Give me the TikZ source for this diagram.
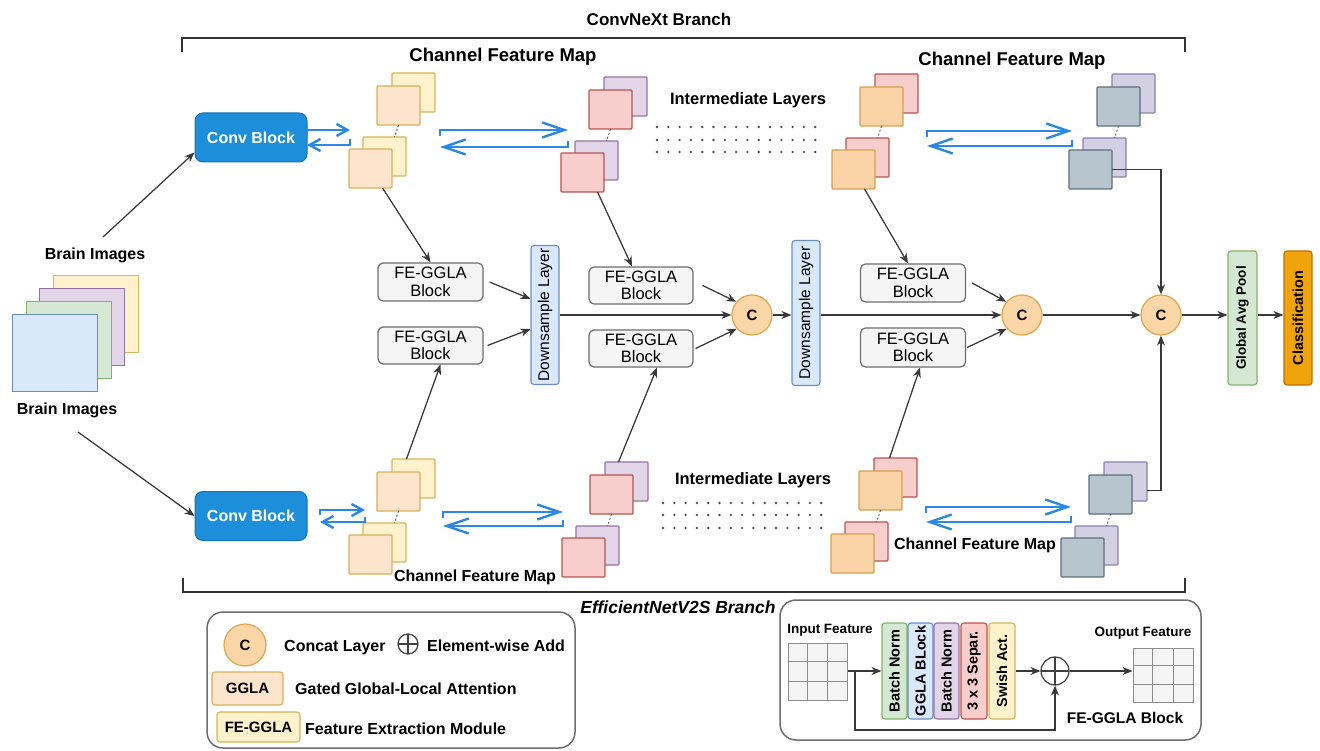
\documentclass[tikz,border=0pt]{standalone}
\usepackage{fontspec}
\setmainfont{Liberation Sans}
\usetikzlibrary{arrows.meta,calc}
\definecolor{yellowF}{HTML}{FFF2CC}\definecolor{yellowD}{HTML}{D6B656}
\definecolor{peachF}{HTML}{FDE4CC}\definecolor{peachD}{HTML}{D9B05A}
\definecolor{purpleF}{HTML}{E1D5E7}\definecolor{purpleD}{HTML}{9673A6}
\definecolor{pinkF}{HTML}{F8CECC}\definecolor{pinkD}{HTML}{B85450}
\definecolor{orangeF}{HTML}{FAD3A6}\definecolor{orangeD}{HTML}{D8A050}
\definecolor{grayF}{HTML}{B7C5CF}\definecolor{grayD}{HTML}{5F707C}
\definecolor{lavF}{HTML}{D3D0E4}\definecolor{lavD}{HTML}{8A82AE}
\definecolor{greenF}{HTML}{D5E8D4}\definecolor{greenD}{HTML}{82B366}
\definecolor{blueF}{HTML}{DAE8FC}\definecolor{blueD}{HTML}{6C8EBF}
\definecolor{cF}{HTML}{FBD6A6}\definecolor{cD}{HTML}{E0A54C}
\definecolor{classF}{HTML}{F0A30A}\definecolor{classD}{HTML}{BD7000}
\definecolor{feF}{HTML}{F5F5F5}\definecolor{feD}{HTML}{6E6E6E}
\definecolor{convF}{HTML}{1D8FDA}\definecolor{convD}{HTML}{1672B0}
\definecolor{arrblue}{HTML}{2B88E6}
\newcommand\fsz[2]{\fontsize{#1}{#2}\selectfont}
\tikzset{
 arr/.style={draw=black!78, line width=1.25pt, -{Stealth[length=10pt,width=8pt]}},
 barrS/.style={draw=arrblue, line width=2.4pt, -{Straight Barb[length=11pt,width=12pt]}},
 barrL/.style={draw=arrblue, line width=2.4pt, -{Straight Barb[length=22pt,width=15pt]}},
 fm/.style={draw, line width=1.1pt, minimum width=43pt, minimum height=39pt, inner sep=0pt, outer sep=0pt, anchor=north west, rounded corners=1pt},
 fmY/.style={fill=yellowF,draw=yellowD}, fmE/.style={fill=peachF,draw=peachD},
 fmP/.style={fill=purpleF,draw=purpleD}, fmK/.style={fill=pinkF,draw=pinkD},
 fmO/.style={fill=orangeF,draw=orangeD}, fmG/.style={fill=grayF,draw=grayD},
 fmL/.style={fill=lavF,draw=lavD},
 bimg/.style={draw, line width=1.1pt, minimum width=85pt, minimum height=77pt, inner sep=0pt, anchor=north west},
 conv/.style={fill=convF, draw=convD, line width=1pt, rounded corners=8pt, minimum width=112pt, minimum height=49pt, text=white, font=\bfseries\fsz{16}{19}},
 fe/.style={fill=feF, draw=feD, line width=1.2pt, rounded corners=5pt, minimum width=105pt, minimum height=38pt, inner sep=0pt, align=center, font=\fsz{16.5}{17.5}},
 vbox/.style={rotate=90, inner sep=0pt, rounded corners=3pt, line width=1.1pt},
 ds/.style={vbox, fill=blueF, draw=blueD, minimum height=28pt, font=\fsz{15.5}{18}},
 cc/.style={circle, fill=cF, draw=cD, line width=1.2pt, minimum size=40pt, inner sep=0pt, font=\bfseries\fsz{15}{18}},
 lbl/.style={inner sep=0pt, font=\bfseries\fsz{16}{19}},
 oplus/.style={circle, draw=black!75, line width=1.2pt, inner sep=0pt, fill=white,
   path picture={\draw[black!75,line width=1.2pt] (path picture bounding box.north) -- (path picture bounding box.south) (path picture bounding box.west) -- (path picture bounding box.east);}},
 lv/.style={vbox, minimum width=96pt, minimum height=25pt, font=\bfseries\fsz{14.5}{17}},
 gridn/.style={fill=feF, draw=black!45, line width=1pt, inner sep=0pt},
 gl/.style={draw=black!45, line width=1pt},
 legbox/.style={draw=feD, line width=1.5pt, rounded corners=16pt},
}
\newcommand\fmstack[5]{%
  \node[fm,#4] (#1tb) at ({#2+15},{#3-13}) {};
  \node[fm,#5] (#1tf) at (#2,#3) {};
  \node[fm,#4] (#1lb) at ({#2-14},{#3+51}) {};
  \node[fm,#5] (#1lf) at ({#2-28},{#3+63}) {};
  \draw[black!70, line width=0.8pt, dash pattern=on 2pt off 2pt] (#1tf.south) -- ([xshift=10pt]#1lb.north);
}
\newcommand\blarr[6]{% style, xL, xR, y1, y2, tick
  \draw[#1] (#2,{#4+#6}) -- (#2,#4) -- (#3,#4);
  \draw[#1] (#3,{#5-#6}) -- (#3,#5) -- (#2,#5);
}
\begin{document}
\begin{tikzpicture}[x=1pt,y=-1pt]
\useasboundingbox[fill=white] (0,0) rectangle (1320,751);

% brackets and titles
\draw[line width=2pt, black!80] (182,52) -- (182,38) -- (1185,38) -- (1185,52);
\draw[line width=2pt, black!80] (183,578) -- (183,592) -- (1185,592) -- (1185,578);
\node[lbl, font=\bfseries\fsz{17}{20}] (tConv) at (659,19) {ConvNeXt Branch};
\node[lbl, font=\bfseries\itshape\fsz{17.5}{20}] (tEff) at (678,607) {EfficientNetV2S Branch};
\node[lbl, font=\bfseries\fsz{18.5}{21}] (cfm1) at (503,57) {Channel Feature Map};
\node[lbl, font=\bfseries\fsz{18.5}{21}] (cfm2) at (1012,61) {Channel Feature Map};
\node[lbl] (cfm3) at (475,577) {Channel Feature Map};
\node[lbl] (cfm4) at (975,545) {Channel Feature Map};
\node[lbl, font=\bfseries\fsz{16.5}{19}] (il1) at (748,100) {Intermediate Layers};
\node[lbl, font=\bfseries\fsz{16.5}{19}] (il2) at (753,480) {Intermediate Layers};

% dots
\foreach \r in {127,140,152} \foreach \k in {0,...,14} \fill[black!70] ({657+11.3*\k},\r) circle (1.3pt);
\foreach \r in {503,515,528} \foreach \k in {0,...,14} \fill[black!70] ({663+11.3*\k},\r) circle (1.3pt);

% brain images
\node[bimg, fill=yellowF, draw=yellowD] (bi4) at (53,275) {};
\node[bimg, fill=purpleF, draw=purpleD] (bi3) at (39,288) {};
\node[bimg, fill=greenF, draw=greenD] (bi2) at (26,301) {};
\node[bimg, fill=blueF, draw=blueD] (bi1) at (12,314) {};
\node[lbl] (biT) at (95,255) {Brain Images};
\node[lbl] (biB) at (67,410) {Brain Images};
\coordinate (biTs) at (103,237);
\coordinate (biBs) at (78,432);

% conv blocks
\node[conv] (conv1) at (251,137.5) {Conv Block};
\node[conv] (conv2) at (251,516) {Conv Block};
\draw[arr] (biTs) -- ([yshift=-15pt]conv1.west);
\draw[arr] (biBs) -- (conv2.west);

% feature map stacks
\fmstack{s1}{377}{86}{fmY}{fmE}
\fmstack{s2}{589}{90}{fmP}{fmK}
\fmstack{s3}{860}{87}{fmK}{fmO}
\fmstack{s4}{1097}{87}{fmL}{fmG}
\fmstack{s5}{377}{472}{fmY}{fmE}
\fmstack{s6}{590}{475}{fmP}{fmK}
\fmstack{s7}{859}{471}{fmK}{fmO}
\fmstack{s8}{1089}{475}{fmL}{fmG}

% blue double arrows
\blarr{barrS}{307}{350}{130}{145}{6}
\blarr{barrL}{440}{568}{130}{147}{6}
\blarr{barrL}{927}{1072}{131}{146}{6}
\blarr{barrS}{320}{365}{510}{522}{5}
\blarr{barrL}{443}{563}{512}{526}{6}
\blarr{barrL}{926}{1071}{507}{522}{6}

% FE-GGLA blocks
\node[fe] (feA1) at (430.5,282) {FE-GGLA\\Block};
\node[fe, minimum height=37pt] (feA2) at (430.5,345.5) {FE-GGLA\\Block};
\node[fe, minimum width=104pt, minimum height=37pt] (feB1) at (641,285.5) {FE-GGLA\\Block};
\node[fe, minimum width=104pt, minimum height=37pt] (feB2) at (641,348.5) {FE-GGLA\\Block};
\node[fe] (feC1) at (913,283) {FE-GGLA\\Block};
\node[fe, minimum height=39pt] (feC2) at (913,347.5) {FE-GGLA\\Block};

% downsample, concat, head
\node[ds, minimum width=139pt] (ds1) at (545,315) {Downsample Layer};
\node[ds, minimum width=145pt] (ds2) at (806,313) {Downsample Layer};
\node[cc] (c1) at (752,315) {C};
\node[cc] (c2) at (1022,315) {C};
\node[cc] (c3) at (1161,315) {C};
\node[vbox, fill=greenF, draw=greenD, minimum width=134pt, minimum height=29pt, font=\bfseries\fsz{13.5}{16}] (gap) at (1242.5,318) {Global Avg Pool};
\node[vbox, fill=classF, draw=classD, minimum width=134pt, minimum height=28pt, font=\bfseries\fsz{14.5}{17}] (cls) at (1298,318) {Classification};

% stack -> FE arrows
\draw[arr] ([xshift=12pt]s1lf.south) -- (feA1.north);
\draw[arr] ([xshift=15pt]s2lf.south) -- ([xshift=-9pt]feB1.north);
\draw[arr] ([xshift=11pt]s3lf.south) -- ([xshift=-5pt]feC1.north);
\draw[arr] ([xshift=-7pt]s5tb.north) -- ([xshift=10pt]feA2.south);
\draw[arr] ([xshift=-8pt]s6tb.north) -- ([xshift=16pt]feB2.south);
\draw[arr] ([xshift=-6pt]s7tb.north) -- ([xshift=7pt]feC2.south);

% FE -> downsample / concat
\draw[arr] ([xshift=6pt]feA1.east) -- ([yshift=16pt]ds1.north);
\draw[arr] ([xshift=4pt]feA2.east) -- ([yshift=-14pt]ds1.north);
\draw[arr] (ds1.south) -- (c1.west);
\draw[arr] ([xshift=9pt]feB1.east) -- (c1.140);
\draw[arr] ([xshift=2pt]feB2.east) -- (c1.222);
\draw[arr] (c1.east) -- (c1.east -| ds2.north);
\draw[arr] (ds2.south |- c2.west) -- (c2.west);
\draw[arr] ([xshift=6pt]feC1.east) -- (c2.140);
\draw[arr] ([xshift=1pt]feC2.east) -- (c2.222);
\draw[arr] (c2.east) -- (c3.west);
\draw[arr] (c3.east) -- (c3.east -| gap.north);
\draw[arr] (gap.south |- c3.east) -- (gap.south |- c3.east -| cls.north);
\draw[arr] (s4lf.east) -| (c3.north);
\draw[arr] ([yshift=-9pt]s8tb.east) -| (c3.south);

% legend 1
\draw[legbox] (207,612) rectangle (575,748);
\node[cc, minimum size=42pt] (lc) at (245,645) {C};
\node[lbl, anchor=base west] (lcT) at (284,651) {Concat Layer};
\node[oplus, minimum size=20pt] (lop) at (408,644) {};
\node[lbl, anchor=base west] (lopT) at (427,651) {Element-wise Add};
\node[fill=peachF, draw=peachD, line width=1.1pt, rounded corners=3pt, minimum width=71pt, minimum height=33pt, inner sep=0pt, font=\bfseries\fsz{15}{18}] (lg) at (247.5,688.5) {GGLA};
\node[lbl, anchor=west] (lgT) at (295,689) {Gated Global-Local Attention};
\node[fill=yellowF, draw=yellowD, line width=1.1pt, rounded corners=3pt, minimum width=83pt, minimum height=30pt, inner sep=0pt, font=\bfseries\fsz{15}{18}] (lf) at (258.5,727) {FE-GGLA};
\node[lbl, anchor=west] (lfT) at (305,729) {Feature Extraction Module};

% legend 2 : FE-GGLA block detail
\draw[legbox] (780,600) rectangle (1201,740);
\node[lbl, font=\bfseries\fsz{13.5}{16}] (inT) at (830,630) {Input Feature};
\node[lbl, font=\bfseries\fsz{13.5}{16}] (outT) at (1143,633) {Output Feature};
\node[lbl, font=\bfseries\fsz{15.5}{18}] (feT) at (1125,718) {FE-GGLA Block};
\node[gridn, minimum width=59pt, minimum height=57pt] (ig) at (817.5,671.5) {};
\node[gridn, minimum width=60pt, minimum height=54pt] (og) at (1163,675) {};
\foreach \g in {ig,og} {
  \foreach \f in {1,2} {
    \draw[gl] ($(\g.north west)!\f/3!(\g.north east)$) -- ($(\g.south west)!\f/3!(\g.south east)$);
    \draw[gl] ($(\g.north west)!\f/3!(\g.south west)$) -- ($(\g.north east)!\f/3!(\g.south east)$);
  }
}
\node[lv, fill=greenF, draw=greenD] (bn1) at (894.5,671) {Batch Norm};
\node[lv, fill=blueF, draw=blueD] (gb) at (920.5,671) {GGLA BLock};
\node[lv, fill=purpleF, draw=purpleD] (bn2) at (946.5,671) {Batch Norm};
\node[lv, fill=pinkF, draw=pinkD, minimum height=26pt] (sep) at (974,671) {3 x 3 Separ.};
\node[lv, fill=yellowF, draw=yellowD, minimum height=26pt] (sw) at (1002,671) {Swish Act.};
\node[oplus, minimum size=28pt] (op) at (1055,671) {};
\coordinate (sk) at (855,671);
\draw[arr] (ig.east |- bn1.north) -- (bn1.north);
\draw[arr] (sw.south) -- (op.west);
\draw[arr] (sk) -- ++(0,59) -| (op.south);
\draw[arr] (op.east) -- (op.east -| og.west);
\end{tikzpicture}
\end{document}
